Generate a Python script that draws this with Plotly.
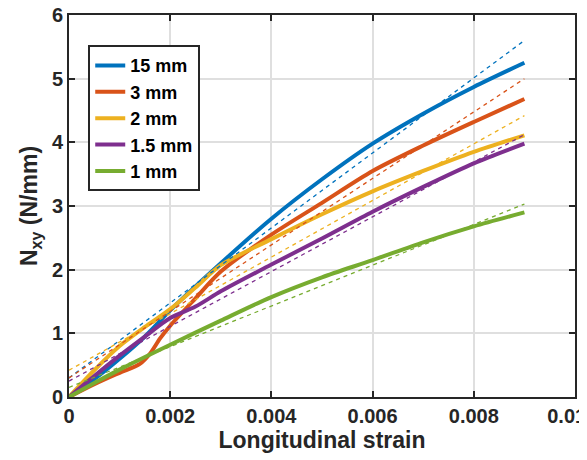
import plotly.graph_objects as go

# ---- data ----
labels = ["15 mm", "3 mm", "2 mm", "1.5 mm", "1 mm"]
colors = ["#0072BD", "#D95319", "#EDB120", "#7E2F8E", "#77AC30"]

strain_15 = [0, 0.0005, 0.001, 0.0015, 0.002, 0.003, 0.004, 0.005, 0.006, 0.007, 0.008, 0.009]
nxy_15 = [0, 0.28, 0.6, 0.95, 1.36, 2.1, 2.8, 3.42, 3.98, 4.45, 4.87, 5.25]

strain_3 = [0, 0.0005, 0.001, 0.0014, 0.0016, 0.0018, 0.002, 0.0025, 0.003, 0.004, 0.005, 0.006, 0.007, 0.008, 0.009]
nxy_3 = [0, 0.2, 0.38, 0.52, 0.68, 0.92, 1.12, 1.55, 1.97, 2.55, 3.05, 3.55, 3.95, 4.32, 4.68]

strain_2 = [0, 0.0005, 0.001, 0.0015, 0.002, 0.0025, 0.003, 0.004, 0.005, 0.006, 0.007, 0.008, 0.009]
nxy_2 = [0, 0.42, 0.8, 1.1, 1.38, 1.72, 2.07, 2.48, 2.87, 3.23, 3.55, 3.85, 4.11]

strain_15b = [0, 0.0005, 0.001, 0.0015, 0.002, 0.0025, 0.003, 0.004, 0.005, 0.006, 0.007, 0.008, 0.009]
nxy_15b = [0, 0.33, 0.65, 0.95, 1.24, 1.42, 1.66, 2.08, 2.49, 2.91, 3.3, 3.67, 3.98]

strain_1 = [0, 0.0005, 0.001, 0.002, 0.003, 0.004, 0.005, 0.006, 0.007, 0.008, 0.009]
nxy_1 = [0, 0.22, 0.43, 0.82, 1.2, 1.57, 1.88, 2.15, 2.43, 2.68, 2.9]

# linear fits (dashed): values at strain 0 and 0.009
fit_x = [0, 0.009]
fit_15 = [0.3, 5.6]
fit_3 = [0.3, 5.0]
fit_2 = [0.42, 4.42]
fit_15b = [0.25, 4.12]
fit_1 = [0.15, 3.03]

x_ticks = [0, 0.002, 0.004, 0.006, 0.008, 0.01]
x_ticktext = ["0", "0.002", "0.004", "0.006", "0.008", "0.01\u00a0\u00a0\u00a0"]
y_ticks = [0, 1, 2, 3, 4, 5, 6]

series = [
    (strain_15, nxy_15, fit_15),
    (strain_3, nxy_3, fit_3),
    (strain_2, nxy_2, fit_2),
    (strain_15b, nxy_15b, fit_15b),
    (strain_1, nxy_1, fit_1),
]

fig = go.Figure()
for (sx, sy, fy), name, col in zip(series, labels, colors):
    fig.add_trace(go.Scatter(x=sx, y=sy, mode="lines", name=name,
                             line=dict(color=col, width=4, shape="spline", smoothing=0.8)))
for (sx, sy, fy), name, col in zip(series, labels, colors):
    fig.add_trace(go.Scatter(x=fit_x, y=fy, mode="lines", showlegend=False,
                             line=dict(color=col, width=1.3, dash="4px,4px")))

font_family = "Liberation Sans, Arial, sans-serif"
axis_common = dict(
    showline=True, linecolor="#262626", linewidth=2, mirror="ticks",
    ticks="inside", ticklen=6, tickwidth=2, tickcolor="#262626",
    showgrid=True, gridcolor="#DFDFDF", gridwidth=2, zeroline=False,
    automargin=False, ticklabeloverflow="allow",
    tickfont=dict(family=font_family, size=20, color="#262626", weight="bold"),
)

# the page body adds an 8px offset, so the figure is 8px smaller and margins shifted
fig.update_layout(
    width=579, height=452,
    margin=dict(l=61, r=12, t=7, b=63),
    paper_bgcolor="white", plot_bgcolor="white",
    font=dict(family=font_family, color="#262626"),
    xaxis=dict(range=[0, 0.01], tickvals=x_ticks, ticktext=x_ticktext,
               title=dict(text="<b>Longitudinal strain</b>", font=dict(size=23, family=font_family, color="#262626"), standoff=4),
               **axis_common),
    yaxis=dict(range=[0, 6], tickvals=y_ticks,
               title=dict(text="<b>N<sub>xy</sub> (N/mm)</b>", font=dict(size=23, family=font_family, color="#262626"), standoff=8),
               **axis_common),
    legend=dict(x=0.038, y=0.921, xanchor="left", yanchor="top",
                bgcolor="white", bordercolor="#262626", borderwidth=2,
                font=dict(family=font_family, size=18, color="black", weight="bold"),
                tracegroupgap=0, itemwidth=30),
    showlegend=True,
)

fig.write_html("out.html")
